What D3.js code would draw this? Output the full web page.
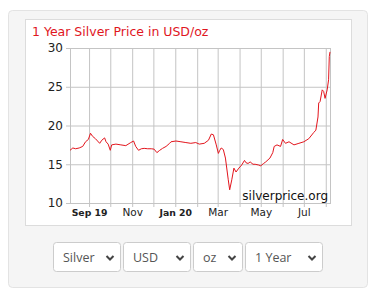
<!DOCTYPE html>
<html>
<head>
<meta charset="utf-8">
<script src="https://cdn.jsdelivr.net/npm/d3@7"></script>
<style>
  body { margin: 0; background: #fff; }
</style>
</head>
<body>
<div id="chart"></div>
<script>
// price data (USD/oz)
const dates = [
    "2019-08-05", "2019-08-09", "2019-08-13", "2019-08-18", "2019-08-23", "2019-08-27",
    "2019-08-31", "2019-09-03", "2019-09-06", "2019-09-10", "2019-09-13", "2019-09-16",
    "2019-09-19", "2019-09-23", "2019-09-25", "2019-09-28", "2019-10-01", "2019-10-03",
    "2019-10-09", "2019-10-16", "2019-10-23", "2019-10-30", "2019-11-03", "2019-11-06",
    "2019-11-10", "2019-11-14", "2019-11-18", "2019-11-23", "2019-11-28", "2019-12-02",
    "2019-12-06", "2019-12-10", "2019-12-14", "2019-12-19", "2019-12-24", "2019-12-26",
    "2020-01-02", "2020-01-09", "2020-01-16", "2020-01-23", "2020-01-30", "2020-02-04",
    "2020-02-11", "2020-02-17", "2020-02-21", "2020-02-24", "2020-02-28", "2020-03-02",
    "2020-03-04", "2020-03-06", "2020-03-09", "2020-03-12", "2020-03-16", "2020-03-18",
    "2020-03-21", "2020-03-24", "2020-03-27", "2020-03-31", "2020-04-04", "2020-04-08",
    "2020-04-10", "2020-04-13", "2020-04-16", "2020-04-20", "2020-04-23", "2020-04-28",
    "2020-05-01", "2020-05-05", "2020-05-08", "2020-05-14", "2020-05-18", "2020-05-20",
    "2020-05-24", "2020-05-29", "2020-06-01", "2020-06-05", "2020-06-10", "2020-06-17",
    "2020-06-24", "2020-07-01", "2020-07-08", "2020-07-15", "2020-07-18", "2020-07-21",
    "2020-07-22", "2020-07-24", "2020-07-27", "2020-07-29", "2020-07-31", "2020-08-03",
    "2020-08-05", "2020-08-06", "2020-08-07"
];
const prices = [
    16.8, 17.1, 17.0, 17.1, 17.3, 17.9,
    18.2, 19.0, 18.6, 18.3, 18.0, 17.7,
    18.1, 18.4, 17.9, 17.6, 16.8, 17.5,
    17.6, 17.5, 17.4, 17.8, 18.0, 17.3,
    16.8, 17.0, 17.05, 17.0, 17.0, 16.95,
    16.5, 16.8, 17.05, 17.3, 17.7, 17.9,
    18.0, 17.9, 17.8, 17.7, 17.8, 17.6,
    17.7, 18.1, 18.9, 18.8, 17.5, 16.4,
    16.8, 17.1, 16.9, 15.8, 13.0, 11.7,
    13.0, 14.5, 14.0, 14.5, 14.9, 15.5,
    15.2, 15.1, 15.3, 15.0, 15.0, 14.9,
    14.8, 15.1, 15.3, 15.8, 16.5, 17.3,
    17.5, 17.3, 18.2, 17.7, 17.9, 17.5,
    17.7, 17.9, 18.3, 19.1, 19.4, 21.1,
    22.9, 23.1, 24.6, 24.4, 23.5, 24.6,
    25.9, 28.9, 29.5
];

const yTicks = [10, 15, 20, 25, 30];
const xLabelDates = ["2019-09-01", "2019-11-01", "2020-01-01", "2020-03-01", "2020-05-01", "2020-07-01"];
const xLabels = ["Sep 19", "Nov", "Jan 20", "Mar", "May", "Jul"];
const xLabelBold = [true, false, true, false, false, false];

const menus = ["Silver", "USD", "oz", "1 Year"];

const parse = d3.timeParse("%Y-%m-%d");

const plot = {left: 70, right: 330, top: 48, bottom: 203};

function main() {
    const svg = d3.select("#chart")
        .append("svg")
        .attr("width", 372)
        .attr("height", 295);

    // outer well
    svg.append("rect")
        .attr("x", 8.5).attr("y", 10.5)
        .attr("width", 359).attr("height", 277)
        .attr("rx", 4)
        .attr("fill", "#f5f5f5")
        .attr("stroke", "#e3e3e3");

    // white chart box
    svg.append("rect")
        .attr("x", 25.5).attr("y", 19.5)
        .attr("width", 326).attr("height", 206)
        .attr("fill", "#fff")
        .attr("stroke", "#dcdcdc");

    svg.append("text")
        .attr("x", 32)
        .attr("y", 36)
        .attr("fill", "#e0161e")
        .style("font-family", "DejaVu Sans")
        .style("font-size", "12.5px")
        .text("1 Year Silver Price in USD/oz");

    const x = d3.scaleTime()
        .domain([parse("2019-08-05"), parse("2020-08-07")])
        .range([plot.left, plot.right]);

    const y = d3.scaleLinear()
        .domain([10, 30])
        .range([plot.bottom, plot.top]);

    const w = plot.right - plot.left;
    const h = plot.bottom - plot.top;

    // month grid
    const months = d3.timeMonth.range(parse("2019-09-01"), parse("2020-08-07"));
    const xGrid = svg.append("g")
        .attr("transform", `translate(0,${plot.bottom})`)
        .call(d3.axisBottom(x).tickValues(months).tickSize(4).tickFormat(""));
    xGrid.select(".domain").remove();
    xGrid.selectAll(".tick line")
        .attr("y1", -h)
        .attr("stroke", "#c4c4c4");

    const yAxis = svg.append("g")
        .attr("transform", `translate(${plot.left},0)`)
        .call(d3.axisLeft(y).tickValues(yTicks).tickSize(4).tickPadding(3));
    yAxis.select(".domain").remove();
    yAxis.selectAll(".tick line")
        .attr("x2", w)
        .attr("x1", -4)
        .attr("stroke", "#c4c4c4");
    yAxis.selectAll(".tick text")
        .attr("fill", "#222")
        .style("font-family", "DejaVu Sans")
        .style("font-size", "12px");

    // frame
    svg.append("rect")
        .attr("x", plot.left + 0.5).attr("y", plot.top + 0.5)
        .attr("width", w).attr("height", h)
        .attr("fill", "none")
        .attr("stroke", "#c4c4c4");

    // month labels
    svg.append("g")
        .selectAll("text")
        .data(xLabels)
        .join("text")
        .attr("x", (d, i) => x(parse(xLabelDates[i])) + 0.5)
        .attr("y", 216)
        .attr("text-anchor", "middle")
        .attr("fill", "#222")
        .style("font-family", "DejaVu Sans")
        .style("font-size", (d, i) => xLabelBold[i] ? "9.3px" : "10.5px")
        .style("font-weight", (d, i) => xLabelBold[i] ? "bold" : "normal")
        .text(d => d);

    const line = d3.line()
        .x((d, i) => x(parse(dates[i])))
        .y(d => y(d));

    svg.append("path")
        .datum(prices)
        .attr("fill", "none")
        .attr("stroke", "#e3151d")
        .attr("stroke-width", 1)
        .attr("d", line);

    svg.append("text")
        .attr("x", 328)
        .attr("y", 200)
        .attr("text-anchor", "end")
        .attr("fill", "#111")
        .style("font-family", "DejaVu Sans")
        .style("font-size", "12px")
        .text("silverprice.org");

    // select boxes
    const boxX = [53.5, 123.5, 193.5, 245.5];
    const boxW = [67, 67, 49, 77];
    const box = svg.append("g")
        .selectAll("g")
        .data(menus)
        .join("g")
        .attr("transform", (d, i) => `translate(${boxX[i]},242.5)`);

    box.append("rect")
        .attr("width", (d, i) => boxW[i])
        .attr("height", 29)
        .attr("rx", 3)
        .attr("fill", "#fff")
        .attr("stroke", "#ccc");

    box.append("text")
        .attr("x", 9.5)
        .attr("y", 19)
        .attr("fill", "#555")
        .style("font-family", "Open Sans")
        .style("font-size", "12.5px")
        .text(d => d);

    box.append("path")
        .attr("d", (d, i) => {
            const cx = boxW[i] - 10.5;
            return `M${cx - 3.5},13.5L${cx},17L${cx + 3.5},13.5`;
        })
        .attr("fill", "none")
        .attr("stroke", "#444")
        .attr("stroke-width", 2);
}

main()
</script>
</body>
</html>
